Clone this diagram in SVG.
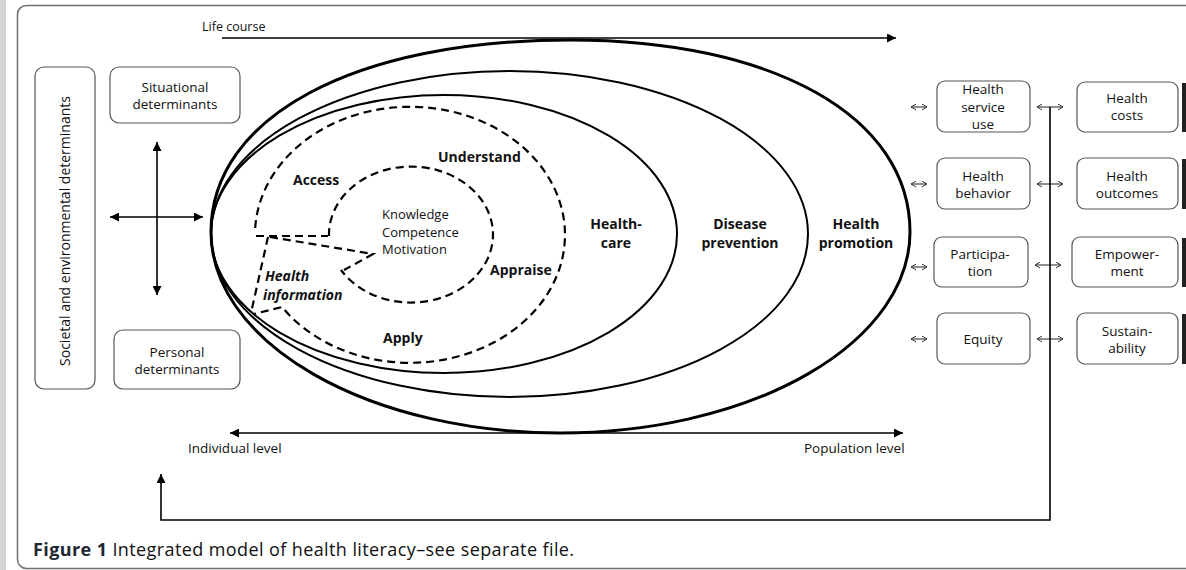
<svg xmlns="http://www.w3.org/2000/svg" width="1186" height="570" viewBox="0 0 1186 570">
<style>
text{font-family:"Open Sans","Liberation Sans",sans-serif;fill:#111}
.bx{fill:#fff;stroke:#555;stroke-width:1.2}
.t13{font-size:13.5px}
.t12{font-size:12.5px}
.kn{font-size:13px}
.lab{font-size:14px;font-weight:bold}
.mid{text-anchor:middle}
.sol{fill:none;stroke:#000}
.dash{fill:none;stroke:#000;stroke-width:2.2;stroke-dasharray:8 5}
.ln{fill:none;stroke:#000;stroke-width:1.6}
.thin{fill:none;stroke:#333;stroke-width:1.1}
</style>
<defs>
<marker id="ah" viewBox="0 0 10 10" refX="10" refY="5" markerWidth="10" markerHeight="9" markerUnits="userSpaceOnUse" orient="auto-start-reverse">
<path d="M0,0 L10,5 L0,10 z" fill="#000"/>
</marker>
<marker id="ch" viewBox="0 0 6 8" refX="6" refY="4" markerWidth="5" markerHeight="7" markerUnits="userSpaceOnUse" orient="auto-start-reverse">
<path d="M0,0.5 L6,4 L0,7.5" fill="none" stroke="#333" stroke-width="1.2"/>
</marker>
</defs>
<rect x="0" y="0" width="1186" height="570" fill="#fff"/>
<rect x="0" y="0" width="6" height="570" fill="#d4d4d4"/>
<rect x="17.5" y="5.5" width="1220" height="563" rx="9" fill="none" stroke="#707070" stroke-width="1.5"/>

<g id="life-course-label"><text x="202" y="31" class="t12">Life course</text></g>

<g id="societal">
<rect class="bx" x="35" y="67" width="60" height="322" rx="9"/>
<text class="mid" font-size="14" transform="translate(70,231) rotate(-90)">Societal and environmental determinants</text>
</g>
<g id="situational">
<rect class="bx" x="110" y="67" width="130" height="56" rx="9"/>
<text class="t13 mid" x="175" y="92">Situational</text>
<text class="t13 mid" x="175" y="109">determinants</text>
</g>
<g id="personal">
<rect class="bx" x="114" y="330" width="126" height="59" rx="9"/>
<text class="t13 mid" x="177" y="357">Personal</text>
<text class="t13 mid" x="177" y="374">determinants</text>
</g>

<g id="health-promotion">
<path class="sol" stroke-width="3" d="M211,232 C211,116.8 354.6,40 570,40 C774,40 910,116.8 910,232 A349.5,201 0 0 1 211,232 Z"/>
<text class="lab mid" x="856" y="229">Health</text>
<text class="lab mid" x="856" y="248">promotion</text>
</g>
<g id="disease-prevention">
<ellipse class="sol" cx="509.5" cy="234" rx="298.5" ry="163" stroke-width="2"/>
<text class="lab mid" x="740" y="229">Disease</text>
<text class="lab mid" x="740" y="248">prevention</text>
</g>
<g id="health-care">
<ellipse class="sol" cx="444" cy="234" rx="233" ry="139" stroke-width="2"/>
<text class="lab mid" x="616" y="229">Health-</text>
<text class="lab mid" x="616" y="248">care</text>
</g>
<g id="health-literacy-process">
<path class="dash" d="M255.2,228 A155,128 0 1 1 282,307 L254,314"/>
<path class="dash" d="M268,237 L251,313"/>
<path class="dash" d="M256,236 L328,236"/>
<path class="dash" d="M270,237 L373,254 L344,270"/>
<text class="lab" x="293" y="185">Access</text>
<text class="lab" x="438" y="162">Understand</text>
<text class="lab" x="490" y="275">Appraise</text>
<text class="lab" x="383" y="343">Apply</text>
<text class="lab" x="265" y="281" font-style="italic">Health</text>
<text class="lab" x="263" y="300" font-style="italic">information</text>
</g>
<g id="core">
<path class="dash" d="M329,236 A82,68 0 1 1 341,270"/>
<text class="kn" x="382" y="218.5">Knowledge</text>
<text class="kn" x="382" y="236.5">Competence</text>
<text class="kn" x="382" y="253.5">Motivation</text>
</g>

<g id="health-service-use">
<rect class="bx" x="937" y="81" width="93" height="51" rx="8"/>
<text class="t13 mid" x="983" y="93.5">Health</text>
<text class="t13 mid" x="983" y="111.5">service</text>
<text class="t13 mid" x="983" y="128.5">use</text>
</g>
<g id="health-behavior">
<rect class="bx" x="937" y="158" width="93" height="51" rx="8"/>
<text class="t13 mid" x="983" y="180.5">Health</text>
<text class="t13 mid" x="983" y="197.5">behavior</text>
</g>
<g id="participation">
<rect class="bx" x="934" y="237" width="94" height="50" rx="8"/>
<text class="t13 mid" x="980" y="258.5">Participa-</text>
<text class="t13 mid" x="980" y="275.5">tion</text>
</g>
<g id="equity">
<rect class="bx" x="937" y="313" width="93" height="51" rx="8"/>
<text class="t13 mid" x="983" y="343.5">Equity</text>
</g>
<g id="health-costs">
<rect class="bx" x="1077" y="82" width="101" height="50" rx="8"/>
<rect x="1182" y="83" width="4" height="49" fill="#222"/>
<text class="t13 mid" x="1127" y="102.5">Health</text>
<text class="t13 mid" x="1127" y="119.5">costs</text>
</g>
<g id="health-outcomes">
<rect class="bx" x="1077" y="158" width="101" height="51" rx="8"/>
<rect x="1182" y="159" width="4" height="50" fill="#222"/>
<text class="t13 mid" x="1127" y="180.5">Health</text>
<text class="t13 mid" x="1127" y="197.5">outcomes</text>
</g>
<g id="empowerment">
<rect class="bx" x="1072" y="237" width="106" height="50" rx="8"/>
<rect x="1182" y="238" width="4" height="49" fill="#222"/>
<text class="t13 mid" x="1127" y="258.5">Empower-</text>
<text class="t13 mid" x="1127" y="275.5">ment</text>
</g>
<g id="sustainability">
<rect class="bx" x="1077" y="313" width="101" height="51" rx="8"/>
<rect x="1182" y="314" width="4" height="50" fill="#222"/>
<text class="t13 mid" x="1127" y="335.5">Sustain-</text>
<text class="t13 mid" x="1127" y="352.5">ability</text>
</g>

<g id="level-labels">
<text class="t13" x="188" y="452.5">Individual level</text>
<text class="t13" x="804" y="452.5">Population level</text>
</g>

<g id="connectors">
<line class="ln" x1="222" y1="38" x2="896" y2="38" stroke-width="2.2" marker-end="url(#ah)"/>
<line class="ln" x1="230" y1="433" x2="903" y2="433" stroke-width="2" marker-start="url(#ah)" marker-end="url(#ah)"/>
<line class="ln" x1="157" y1="142" x2="157" y2="295" marker-start="url(#ah)" marker-end="url(#ah)"/>
<line class="ln" x1="110" y1="217" x2="203" y2="217" marker-start="url(#ah)" marker-end="url(#ah)"/>
<line class="thin" x1="911" y1="107" x2="927" y2="107" stroke-width="0.6" marker-start="url(#ch)" marker-end="url(#ch)"/>
<line class="thin" x1="911" y1="184" x2="927" y2="184" stroke-width="0.6" marker-start="url(#ch)" marker-end="url(#ch)"/>
<line class="thin" x1="911" y1="267" x2="927" y2="267" stroke-width="0.6" marker-start="url(#ch)" marker-end="url(#ch)"/>
<line class="thin" x1="911" y1="339" x2="927" y2="339" stroke-width="0.6" marker-start="url(#ch)" marker-end="url(#ch)"/>
<line class="thin" x1="1037" y1="107" x2="1063" y2="107" marker-start="url(#ch)" marker-end="url(#ch)"/>
<line class="thin" x1="1037" y1="184" x2="1063" y2="184" marker-start="url(#ch)" marker-end="url(#ch)"/>
<line class="thin" x1="1035" y1="265" x2="1061" y2="265" marker-start="url(#ch)" marker-end="url(#ch)"/>
<line class="thin" x1="1037" y1="339" x2="1063" y2="339" marker-start="url(#ch)" marker-end="url(#ch)"/>
<path class="ln" d="M1050,107 L1050,520 L161,520 L161,474" stroke-width="1.5" marker-end="url(#ah)"/>
</g>

<g id="caption">
<text x="33" y="555.5" font-size="18" letter-spacing="0.4" fill="#222"><tspan font-weight="bold" fill="#1f2733">Figure 1</tspan> Integrated model of health literacy–see separate file.</text>
</g>
</svg>
